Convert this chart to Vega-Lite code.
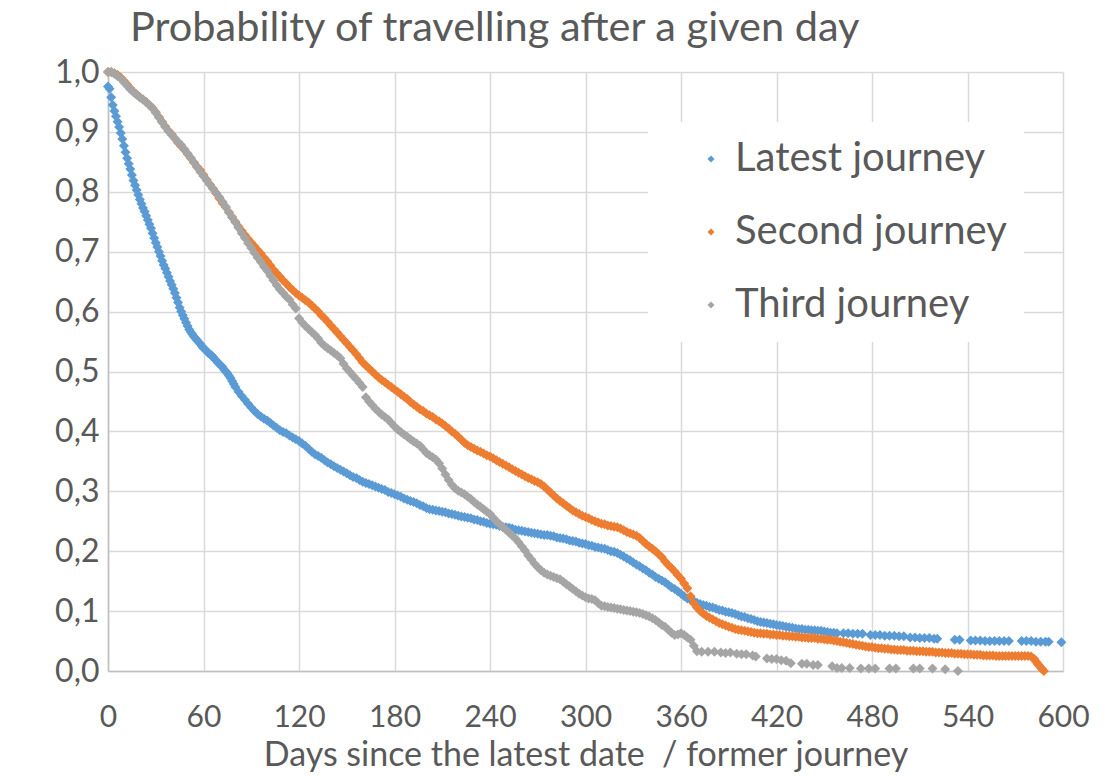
{
"$schema": "https://vega.github.io/schema/vega-lite/v6.json",
"width": 955,
"height": 599,
"autosize": "none",
"padding": {"left": 108, "top": 72, "right": 54, "bottom": 105},
"background": "white",
"title": {"text": "Probability of travelling after a given day", "anchor": "start", "frame": "group", "dx": 22, "offset": 7, "fontSize": 41.5, "font": "Lato", "fontWeight": "normal", "color": "#595959"},
"config": {"view": {"stroke": null}, "font": "Lato"},
"datasets": {
"L": [
{"d":0,"p":0.976},{"d":1,"p":0.972},{"d":2,"p":0.958},{"d":3,"p":0.945},{"d":4,"p":0.935},{"d":5,"p":0.926},{"d":6,"p":0.917},{"d":7,"p":0.908},{"d":8,"p":0.898},{"d":9,"p":0.888},
{"d":10,"p":0.877},{"d":11,"p":0.866},{"d":12,"p":0.856},{"d":13,"p":0.847},{"d":14,"p":0.838},{"d":15,"p":0.828},{"d":16,"p":0.819},{"d":17,"p":0.811},{"d":18,"p":0.803},{"d":19,"p":0.795},
{"d":20,"p":0.787},{"d":21,"p":0.780},{"d":22,"p":0.773},{"d":23,"p":0.767},{"d":24,"p":0.760},{"d":25,"p":0.753},{"d":26,"p":0.746},{"d":27,"p":0.739},{"d":28,"p":0.731},{"d":29,"p":0.723},
{"d":30,"p":0.715},{"d":31,"p":0.708},{"d":32,"p":0.700},{"d":33,"p":0.693},{"d":34,"p":0.685},{"d":35,"p":0.678},{"d":36,"p":0.672},{"d":37,"p":0.665},{"d":38,"p":0.658},{"d":39,"p":0.651},
{"d":40,"p":0.645},{"d":41,"p":0.638},{"d":42,"p":0.631},{"d":43,"p":0.623},{"d":44,"p":0.615},{"d":45,"p":0.607},{"d":46,"p":0.600},{"d":47,"p":0.594},{"d":48,"p":0.588},{"d":49,"p":0.582},
{"d":50,"p":0.576},{"d":51,"p":0.570},{"d":52,"p":0.566},{"d":53,"p":0.562},{"d":54,"p":0.558},{"d":55,"p":0.555},{"d":56,"p":0.552},{"d":57,"p":0.549},{"d":58,"p":0.546},{"d":59,"p":0.542},
{"d":60,"p":0.539},{"d":61,"p":0.537},{"d":62,"p":0.534},{"d":63,"p":0.531},{"d":64,"p":0.529},{"d":65,"p":0.527},{"d":66,"p":0.524},{"d":67,"p":0.521},{"d":68,"p":0.518},{"d":69,"p":0.515},
{"d":70,"p":0.512},{"d":71,"p":0.510},{"d":72,"p":0.507},{"d":73,"p":0.503},{"d":74,"p":0.500},{"d":75,"p":0.497},{"d":76,"p":0.493},{"d":77,"p":0.489},{"d":78,"p":0.484},{"d":79,"p":0.479},
{"d":80,"p":0.474},{"d":82,"p":0.466},{"d":84,"p":0.459},{"d":86,"p":0.453},{"d":88,"p":0.446},{"d":90,"p":0.440},{"d":92,"p":0.434},{"d":94,"p":0.429},{"d":96,"p":0.425},{"d":98,"p":0.421},
{"d":100,"p":0.418},{"d":102,"p":0.414},{"d":104,"p":0.410},{"d":106,"p":0.406},{"d":108,"p":0.402},{"d":110,"p":0.399},{"d":112,"p":0.397},{"d":114,"p":0.393},{"d":116,"p":0.390},{"d":118,"p":0.387},
{"d":120,"p":0.384},{"d":122,"p":0.380},{"d":124,"p":0.376},{"d":126,"p":0.371},{"d":128,"p":0.366},{"d":130,"p":0.362},{"d":132,"p":0.359},{"d":134,"p":0.356},{"d":136,"p":0.352},{"d":138,"p":0.348},
{"d":140,"p":0.345},{"d":142,"p":0.342},{"d":144,"p":0.339},{"d":146,"p":0.336},{"d":148,"p":0.333},{"d":150,"p":0.330},{"d":152,"p":0.327},{"d":154,"p":0.324},{"d":156,"p":0.322},{"d":158,"p":0.319},
{"d":160,"p":0.316},{"d":162,"p":0.314},{"d":164,"p":0.312},{"d":166,"p":0.310},{"d":168,"p":0.308},{"d":170,"p":0.306},{"d":172,"p":0.304},{"d":174,"p":0.302},{"d":176,"p":0.299},{"d":178,"p":0.297},
{"d":180,"p":0.295},{"d":182,"p":0.293},{"d":184,"p":0.291},{"d":186,"p":0.288},{"d":188,"p":0.286},{"d":190,"p":0.284},{"d":192,"p":0.282},{"d":194,"p":0.280},{"d":196,"p":0.277},{"d":198,"p":0.275},
{"d":200,"p":0.272},{"d":202,"p":0.270},{"d":204,"p":0.269},{"d":206,"p":0.268},{"d":208,"p":0.267},{"d":210,"p":0.266},{"d":212,"p":0.265},{"d":214,"p":0.263},{"d":216,"p":0.262},{"d":218,"p":0.261},
{"d":220,"p":0.259},{"d":222,"p":0.258},{"d":224,"p":0.257},{"d":226,"p":0.256},{"d":228,"p":0.255},{"d":230,"p":0.253},{"d":232,"p":0.252},{"d":234,"p":0.250},{"d":236,"p":0.249},{"d":238,"p":0.247},
{"d":240,"p":0.246},{"d":242,"p":0.245},{"d":244,"p":0.244},{"d":246,"p":0.242},{"d":248,"p":0.241},{"d":250,"p":0.240},{"d":252,"p":0.239},{"d":254,"p":0.238},{"d":256,"p":0.236},{"d":258,"p":0.235},
{"d":260,"p":0.234},{"d":262,"p":0.233},{"d":264,"p":0.232},{"d":266,"p":0.231},{"d":268,"p":0.230},{"d":270,"p":0.229},{"d":272,"p":0.228},{"d":274,"p":0.227},{"d":276,"p":0.227},{"d":278,"p":0.226},
{"d":280,"p":0.225},{"d":282,"p":0.223},{"d":284,"p":0.222},{"d":286,"p":0.221},{"d":288,"p":0.220},{"d":290,"p":0.218},{"d":292,"p":0.217},{"d":294,"p":0.216},{"d":296,"p":0.214},{"d":298,"p":0.213},
{"d":300,"p":0.212},{"d":302,"p":0.210},{"d":304,"p":0.209},{"d":306,"p":0.207},{"d":308,"p":0.206},{"d":310,"p":0.205},{"d":312,"p":0.204},{"d":314,"p":0.202},{"d":316,"p":0.200},{"d":318,"p":0.199},
{"d":320,"p":0.197},{"d":322,"p":0.194},{"d":324,"p":0.191},{"d":326,"p":0.188},{"d":328,"p":0.185},{"d":330,"p":0.181},{"d":332,"p":0.178},{"d":334,"p":0.175},{"d":336,"p":0.171},{"d":338,"p":0.168},
{"d":340,"p":0.164},{"d":342,"p":0.161},{"d":344,"p":0.157},{"d":346,"p":0.154},{"d":348,"p":0.151},{"d":350,"p":0.148},{"d":352,"p":0.144},{"d":354,"p":0.140},{"d":356,"p":0.137},{"d":358,"p":0.133},
{"d":360,"p":0.129},{"d":362,"p":0.125},{"d":364,"p":0.121},{"d":366,"p":0.119},{"d":368,"p":0.117},{"d":370,"p":0.114},{"d":372,"p":0.112},{"d":374,"p":0.110},{"d":376,"p":0.109},{"d":378,"p":0.107},
{"d":380,"p":0.106},{"d":382,"p":0.104},{"d":384,"p":0.102},{"d":386,"p":0.101},{"d":388,"p":0.099},{"d":390,"p":0.098},{"d":392,"p":0.097},{"d":394,"p":0.095},{"d":396,"p":0.093},{"d":398,"p":0.091},
{"d":400,"p":0.090},{"d":402,"p":0.088},{"d":404,"p":0.087},{"d":406,"p":0.085},{"d":408,"p":0.083},{"d":410,"p":0.082},{"d":412,"p":0.081},{"d":414,"p":0.080},{"d":416,"p":0.079},{"d":418,"p":0.078},
{"d":420,"p":0.077},{"d":422,"p":0.076},{"d":424,"p":0.075},{"d":426,"p":0.074},{"d":428,"p":0.073},{"d":430,"p":0.072},{"d":432,"p":0.071},{"d":434,"p":0.070},{"d":436,"p":0.070},{"d":438,"p":0.069},
{"d":440,"p":0.069},{"d":442,"p":0.068},{"d":444,"p":0.068},{"d":446,"p":0.067},{"d":448,"p":0.067},{"d":450,"p":0.066},{"d":452,"p":0.065},{"d":454,"p":0.064},{"d":456,"p":0.064},{"d":458,"p":0.063},
{"d":462,"p":0.063},{"d":465,"p":0.063},{"d":468,"p":0.062},{"d":471,"p":0.062},{"d":474,"p":0.062},
{"d":479,"p":0.060},{"d":482,"p":0.060},{"d":485,"p":0.060},{"d":488,"p":0.059},{"d":491,"p":0.059},{"d":494,"p":0.059},{"d":497,"p":0.058},{"d":500,"p":0.058},
{"d":504,"p":0.056},{"d":507,"p":0.056},{"d":510,"p":0.055},{"d":513,"p":0.055},{"d":516,"p":0.055},{"d":519,"p":0.054},{"d":521,"p":0.054},
{"d":532,"p":0.052},{"d":535,"p":0.052},
{"d":542,"p":0.051},{"d":545,"p":0.051},{"d":548,"p":0.051},{"d":551,"p":0.050},{"d":554,"p":0.050},{"d":557,"p":0.050},{"d":560,"p":0.050},{"d":563,"p":0.050},{"d":566,"p":0.050},
{"d":574,"p":0.050},{"d":577,"p":0.050},{"d":580,"p":0.050},{"d":583,"p":0.049},{"d":586,"p":0.049},{"d":589,"p":0.049},{"d":591,"p":0.049},
{"d":599,"p":0.048}
],
"S": [
{"d":0,"p":1.000},{"d":2,"p":1.000},{"d":4,"p":0.998},{"d":6,"p":0.995},{"d":8,"p":0.991},{"d":10,"p":0.985},{"d":12,"p":0.979},{"d":14,"p":0.973},{"d":16,"p":0.967},{"d":18,"p":0.963},
{"d":20,"p":0.958},{"d":22,"p":0.954},{"d":24,"p":0.950},{"d":26,"p":0.945},{"d":28,"p":0.940},{"d":30,"p":0.933},{"d":32,"p":0.925},{"d":34,"p":0.917},{"d":36,"p":0.909},{"d":38,"p":0.902},
{"d":40,"p":0.896},{"d":42,"p":0.889},{"d":44,"p":0.882},{"d":46,"p":0.876},{"d":48,"p":0.870},{"d":50,"p":0.863},{"d":52,"p":0.856},{"d":54,"p":0.849},{"d":56,"p":0.842},{"d":58,"p":0.836},
{"d":60,"p":0.828},{"d":62,"p":0.820},{"d":64,"p":0.812},{"d":66,"p":0.805},{"d":68,"p":0.797},{"d":70,"p":0.789},{"d":72,"p":0.781},{"d":74,"p":0.774},{"d":76,"p":0.766},{"d":78,"p":0.758},
{"d":80,"p":0.750},{"d":82,"p":0.742},{"d":84,"p":0.735},{"d":86,"p":0.728},{"d":88,"p":0.721},{"d":90,"p":0.715},{"d":92,"p":0.709},{"d":94,"p":0.703},{"d":96,"p":0.697},{"d":98,"p":0.690},
{"d":100,"p":0.684},{"d":102,"p":0.677},{"d":104,"p":0.670},{"d":106,"p":0.664},{"d":108,"p":0.658},{"d":110,"p":0.652},{"d":112,"p":0.647},{"d":114,"p":0.641},{"d":116,"p":0.636},{"d":118,"p":0.631},
{"d":120,"p":0.627},{"d":122,"p":0.623},{"d":124,"p":0.619},{"d":126,"p":0.615},{"d":128,"p":0.610},{"d":130,"p":0.605},{"d":132,"p":0.600},{"d":134,"p":0.594},{"d":136,"p":0.589},{"d":138,"p":0.583},
{"d":140,"p":0.577},{"d":142,"p":0.571},{"d":144,"p":0.565},{"d":146,"p":0.559},{"d":148,"p":0.553},{"d":150,"p":0.547},{"d":152,"p":0.541},{"d":154,"p":0.535},{"d":156,"p":0.529},{"d":158,"p":0.522},
{"d":160,"p":0.515},{"d":162,"p":0.510},{"d":164,"p":0.505},{"d":166,"p":0.500},{"d":168,"p":0.495},{"d":170,"p":0.490},{"d":172,"p":0.486},{"d":174,"p":0.482},{"d":176,"p":0.478},{"d":178,"p":0.474},
{"d":180,"p":0.470},{"d":182,"p":0.466},{"d":184,"p":0.462},{"d":186,"p":0.458},{"d":188,"p":0.454},{"d":190,"p":0.449},{"d":192,"p":0.445},{"d":194,"p":0.441},{"d":196,"p":0.437},{"d":198,"p":0.434},
{"d":200,"p":0.430},{"d":202,"p":0.427},{"d":204,"p":0.424},{"d":206,"p":0.420},{"d":208,"p":0.417},{"d":210,"p":0.413},{"d":212,"p":0.409},{"d":214,"p":0.405},{"d":216,"p":0.400},{"d":218,"p":0.396},
{"d":220,"p":0.391},{"d":222,"p":0.386},{"d":224,"p":0.381},{"d":226,"p":0.377},{"d":228,"p":0.374},{"d":230,"p":0.371},{"d":232,"p":0.368},{"d":234,"p":0.366},{"d":236,"p":0.363},{"d":238,"p":0.360},
{"d":240,"p":0.358},{"d":242,"p":0.355},{"d":244,"p":0.352},{"d":246,"p":0.349},{"d":248,"p":0.346},{"d":250,"p":0.343},{"d":252,"p":0.340},{"d":254,"p":0.337},{"d":256,"p":0.334},{"d":258,"p":0.331},
{"d":260,"p":0.328},{"d":262,"p":0.325},{"d":264,"p":0.322},{"d":266,"p":0.320},{"d":268,"p":0.317},{"d":270,"p":0.315},{"d":272,"p":0.312},{"d":274,"p":0.308},{"d":276,"p":0.303},{"d":278,"p":0.298},
{"d":280,"p":0.293},{"d":282,"p":0.288},{"d":284,"p":0.284},{"d":286,"p":0.280},{"d":288,"p":0.276},{"d":290,"p":0.272},{"d":292,"p":0.268},{"d":294,"p":0.265},{"d":296,"p":0.262},{"d":298,"p":0.259},
{"d":300,"p":0.257},{"d":302,"p":0.255},{"d":304,"p":0.252},{"d":306,"p":0.250},{"d":308,"p":0.248},{"d":310,"p":0.246},{"d":312,"p":0.245},{"d":314,"p":0.243},{"d":316,"p":0.242},{"d":318,"p":0.241},
{"d":320,"p":0.240},{"d":322,"p":0.238},{"d":324,"p":0.235},{"d":326,"p":0.232},{"d":328,"p":0.230},{"d":330,"p":0.228},{"d":332,"p":0.226},{"d":334,"p":0.222},{"d":336,"p":0.217},{"d":338,"p":0.212},
{"d":340,"p":0.208},{"d":342,"p":0.204},{"d":344,"p":0.200},{"d":346,"p":0.195},{"d":348,"p":0.190},{"d":350,"p":0.183},{"d":352,"p":0.177},{"d":354,"p":0.172},{"d":356,"p":0.166},{"d":358,"p":0.160},
{"d":360,"p":0.154},{"d":362,"p":0.146},{"d":364,"p":0.138},{"d":366,"p":0.125},{"d":368,"p":0.113},{"d":370,"p":0.106},{"d":372,"p":0.100},{"d":374,"p":0.096},{"d":376,"p":0.092},{"d":378,"p":0.089},
{"d":380,"p":0.086},{"d":382,"p":0.083},{"d":384,"p":0.080},{"d":386,"p":0.078},{"d":388,"p":0.076},{"d":390,"p":0.074},{"d":392,"p":0.072},{"d":394,"p":0.070},{"d":396,"p":0.069},{"d":398,"p":0.068},
{"d":400,"p":0.067},{"d":402,"p":0.066},{"d":404,"p":0.065},{"d":406,"p":0.064},{"d":408,"p":0.063},{"d":410,"p":0.063},{"d":412,"p":0.062},{"d":414,"p":0.062},{"d":416,"p":0.061},{"d":418,"p":0.061},
{"d":420,"p":0.060},{"d":422,"p":0.060},{"d":424,"p":0.059},{"d":426,"p":0.059},{"d":428,"p":0.058},{"d":430,"p":0.058},{"d":432,"p":0.057},{"d":434,"p":0.057},{"d":436,"p":0.056},{"d":438,"p":0.056},
{"d":440,"p":0.055},{"d":442,"p":0.055},{"d":444,"p":0.055},{"d":446,"p":0.054},{"d":448,"p":0.054},{"d":450,"p":0.053},{"d":452,"p":0.052},{"d":454,"p":0.052},{"d":456,"p":0.051},{"d":458,"p":0.050},
{"d":460,"p":0.049},{"d":462,"p":0.048},{"d":464,"p":0.047},{"d":466,"p":0.046},{"d":468,"p":0.045},{"d":470,"p":0.044},{"d":472,"p":0.043},{"d":474,"p":0.042},{"d":476,"p":0.041},{"d":478,"p":0.040},
{"d":480,"p":0.040},{"d":482,"p":0.039},{"d":484,"p":0.038},{"d":486,"p":0.038},{"d":488,"p":0.037},{"d":490,"p":0.037},{"d":492,"p":0.036},{"d":494,"p":0.036},{"d":496,"p":0.035},{"d":498,"p":0.035},
{"d":500,"p":0.035},{"d":502,"p":0.034},{"d":504,"p":0.034},{"d":506,"p":0.034},{"d":508,"p":0.033},{"d":510,"p":0.033},{"d":512,"p":0.033},{"d":514,"p":0.032},{"d":516,"p":0.032},{"d":518,"p":0.032},
{"d":520,"p":0.031},{"d":522,"p":0.031},{"d":524,"p":0.031},{"d":526,"p":0.030},{"d":528,"p":0.030},{"d":530,"p":0.030},{"d":532,"p":0.029},{"d":534,"p":0.029},{"d":536,"p":0.029},{"d":538,"p":0.028},
{"d":540,"p":0.028},{"d":542,"p":0.028},{"d":544,"p":0.027},{"d":546,"p":0.027},{"d":548,"p":0.027},{"d":550,"p":0.026},{"d":552,"p":0.026},{"d":554,"p":0.026},{"d":556,"p":0.026},{"d":558,"p":0.025},
{"d":560,"p":0.025},{"d":562,"p":0.025},{"d":564,"p":0.025},{"d":566,"p":0.025},{"d":568,"p":0.025},{"d":570,"p":0.025},{"d":572,"p":0.025},{"d":574,"p":0.025},{"d":576,"p":0.025},{"d":578,"p":0.025},
{"d":580,"p":0.024},{"d":582,"p":0.020},{"d":583,"p":0.016},{"d":584,"p":0.012},{"d":585,"p":0.009},{"d":586,"p":0.006},{"d":587,"p":0.003},{"d":588,"p":0.000}
],
"T": [
{"d":0,"p":1.000},{"d":2,"p":1.000},{"d":4,"p":0.997},{"d":6,"p":0.993},{"d":8,"p":0.989},{"d":10,"p":0.983},{"d":12,"p":0.977},{"d":14,"p":0.971},{"d":16,"p":0.966},{"d":18,"p":0.962},
{"d":20,"p":0.958},{"d":22,"p":0.954},{"d":24,"p":0.950},{"d":26,"p":0.945},{"d":28,"p":0.939},{"d":30,"p":0.932},{"d":32,"p":0.924},{"d":34,"p":0.916},{"d":36,"p":0.908},{"d":38,"p":0.901},
{"d":40,"p":0.895},{"d":42,"p":0.889},{"d":44,"p":0.883},{"d":46,"p":0.878},{"d":48,"p":0.871},{"d":50,"p":0.864},{"d":52,"p":0.857},{"d":54,"p":0.849},{"d":56,"p":0.841},{"d":58,"p":0.833},
{"d":60,"p":0.826},{"d":62,"p":0.819},{"d":64,"p":0.812},{"d":66,"p":0.805},{"d":68,"p":0.798},{"d":70,"p":0.791},{"d":72,"p":0.783},{"d":74,"p":0.775},{"d":76,"p":0.766},{"d":78,"p":0.757},
{"d":80,"p":0.749},{"d":82,"p":0.740},{"d":84,"p":0.731},{"d":86,"p":0.723},{"d":88,"p":0.714},{"d":90,"p":0.706},{"d":92,"p":0.698},{"d":94,"p":0.690},{"d":96,"p":0.683},{"d":98,"p":0.675},
{"d":100,"p":0.668},{"d":102,"p":0.660},{"d":104,"p":0.652},{"d":106,"p":0.644},{"d":108,"p":0.637},{"d":110,"p":0.631},{"d":112,"p":0.625},{"d":114,"p":0.620},{"d":116,"p":0.612},{"d":118,"p":0.605},
{"d":120,"p":0.589},{"d":122,"p":0.582},{"d":124,"p":0.576},{"d":126,"p":0.571},{"d":128,"p":0.566},{"d":130,"p":0.561},{"d":132,"p":0.555},{"d":134,"p":0.548},{"d":136,"p":0.543},{"d":138,"p":0.539},
{"d":140,"p":0.535},{"d":142,"p":0.531},{"d":144,"p":0.527},{"d":146,"p":0.522},{"d":148,"p":0.513},{"d":150,"p":0.505},{"d":152,"p":0.499},{"d":154,"p":0.493},{"d":156,"p":0.487},{"d":158,"p":0.481},
{"d":160,"p":0.474},{"d":162,"p":0.457},{"d":164,"p":0.450},{"d":166,"p":0.444},{"d":168,"p":0.438},{"d":170,"p":0.433},{"d":172,"p":0.428},{"d":174,"p":0.424},{"d":176,"p":0.420},{"d":178,"p":0.414},
{"d":180,"p":0.408},{"d":182,"p":0.403},{"d":184,"p":0.399},{"d":186,"p":0.395},{"d":188,"p":0.391},{"d":190,"p":0.387},{"d":192,"p":0.383},{"d":194,"p":0.380},{"d":196,"p":0.376},{"d":198,"p":0.370},
{"d":200,"p":0.364},{"d":202,"p":0.360},{"d":204,"p":0.357},{"d":206,"p":0.353},{"d":208,"p":0.347},{"d":210,"p":0.338},{"d":212,"p":0.328},{"d":214,"p":0.319},{"d":216,"p":0.311},{"d":218,"p":0.305},
{"d":220,"p":0.301},{"d":222,"p":0.298},{"d":224,"p":0.295},{"d":226,"p":0.291},{"d":228,"p":0.287},{"d":230,"p":0.282},{"d":232,"p":0.278},{"d":234,"p":0.274},{"d":236,"p":0.270},{"d":238,"p":0.266},
{"d":240,"p":0.262},{"d":242,"p":0.256},{"d":244,"p":0.250},{"d":246,"p":0.245},{"d":248,"p":0.240},{"d":250,"p":0.236},{"d":252,"p":0.231},{"d":254,"p":0.226},{"d":256,"p":0.221},{"d":258,"p":0.215},
{"d":260,"p":0.208},{"d":262,"p":0.201},{"d":264,"p":0.193},{"d":266,"p":0.186},{"d":268,"p":0.179},{"d":270,"p":0.173},{"d":272,"p":0.168},{"d":274,"p":0.164},{"d":276,"p":0.161},{"d":278,"p":0.159},
{"d":280,"p":0.157},{"d":282,"p":0.155},{"d":284,"p":0.153},{"d":286,"p":0.149},{"d":288,"p":0.145},{"d":290,"p":0.141},{"d":292,"p":0.137},{"d":294,"p":0.133},{"d":296,"p":0.129},{"d":298,"p":0.126},
{"d":300,"p":0.123},{"d":302,"p":0.121},{"d":304,"p":0.120},{"d":306,"p":0.118},{"d":308,"p":0.113},{"d":310,"p":0.109},{"d":312,"p":0.108},{"d":314,"p":0.107},{"d":316,"p":0.106},{"d":318,"p":0.105},
{"d":320,"p":0.104},{"d":322,"p":0.103},{"d":324,"p":0.102},{"d":326,"p":0.101},{"d":328,"p":0.100},{"d":330,"p":0.099},{"d":332,"p":0.098},{"d":334,"p":0.097},{"d":336,"p":0.095},{"d":338,"p":0.093},
{"d":340,"p":0.091},{"d":342,"p":0.088},{"d":344,"p":0.085},{"d":346,"p":0.081},{"d":348,"p":0.077},{"d":350,"p":0.074},{"d":352,"p":0.069},{"d":354,"p":0.064},{"d":356,"p":0.060},{"d":358,"p":0.061},
{"d":360,"p":0.063},{"d":362,"p":0.060},{"d":364,"p":0.056},{"d":366,"p":0.052},{"d":368,"p":0.042},{"d":370,"p":0.033},
{"d":373,"p":0.032},{"d":377,"p":0.032},{"d":381,"p":0.032},{"d":385,"p":0.031},{"d":388,"p":0.030},{"d":391,"p":0.031},{"d":395,"p":0.029},{"d":398,"p":0.028},{"d":401,"p":0.028},{"d":405,"p":0.026},
{"d":407,"p":0.024},{"d":414,"p":0.021},{"d":417,"p":0.020},{"d":420,"p":0.020},{"d":423,"p":0.018},{"d":426,"p":0.017},{"d":429,"p":0.013},{"d":436,"p":0.012},{"d":439,"p":0.012},{"d":443,"p":0.010},
{"d":446,"p":0.010},{"d":455,"p":0.008},{"d":458,"p":0.005},{"d":461,"p":0.005},{"d":466,"p":0.005},{"d":473,"p":0.004},{"d":478,"p":0.004},{"d":482,"p":0.004},{"d":491,"p":0.004},{"d":495,"p":0.004},
{"d":506,"p":0.004},{"d":510,"p":0.004},{"d":518,"p":0.004},{"d":526,"p":0.003},{"d":534,"p":0.000}
]
},
"encoding": {
"x": {"field": "d", "type": "quantitative", "scale": {"domain": [0, 600], "nice": false},
  "axis": {"values": [0,60,120,180,240,300,360,420,480,540,600], "title": "Days since the latest date \u00a0/ former journey", "titleFontSize": 34, "titleFontWeight": "normal", "titleColor": "#595959", "titleFont": "Lato", "titlePadding": 6,
    "labelFontSize": 30, "labelColor": "#595959", "labelPadding": 31, "labelFlush": false, "ticks": false, "tickSize": 0, "domainColor": "#bfbfbf", "domainWidth": 1.5, "gridColor": "#d9d9d9", "gridWidth": 1.5, "labelFont": "Lato"}},
"y": {"field": "p", "type": "quantitative", "scale": {"domain": [0, 1], "nice": false},
  "axis": {"values": [0,0.1,0.2,0.3,0.4,0.5,0.6,0.7,0.8,0.9,1.0], "title": null, "labelExpr": "replace(format(datum.value, '.1f'), '.', ',')",
    "labelFontSize": 32, "labelColor": "#595959", "labelPadding": 9, "labelFlush": false, "ticks": false, "tickSize": 0, "domainColor": "#bfbfbf", "domainWidth": 1.5, "gridColor": "#d9d9d9", "gridWidth": 1.5, "labelFont": "Lato"}}
},
"layer": [
{"data": {"name": "L"}, "mark": {"type": "point", "shape": "diamond", "filled": true, "size": 100, "opacity": 1},
 "encoding": {"color": {"datum": "Latest journey", "type": "nominal",
   "scale": {"domain": ["Latest journey", "Second journey", "Third journey"], "range": ["#5B9BD5", "#ED7D31", "#A5A5A5"]},
   "legend": {"orient": "none", "legendX": 540, "legendY": 50, "fillColor": "white", "padding": 17, "rowPadding": 33, "symbolType": "diamond", "symbolSize": 50, "symbolStrokeWidth": 0, "symbolOffset": 26, "labelOffset": 4, "labelFontSize": 40, "labelFont": "Lato", "labelColor": "#595959", "labelLimit": 600, "title": null}}}},
{"data": {"name": "S"}, "mark": {"type": "point", "shape": "diamond", "filled": true, "size": 100, "opacity": 1},
 "encoding": {"color": {"datum": "Second journey", "type": "nominal"}}},
{"data": {"name": "T"}, "mark": {"type": "point", "shape": "diamond", "filled": true, "size": 100, "opacity": 1},
 "encoding": {"color": {"datum": "Third journey", "type": "nominal"}}}
]
}
